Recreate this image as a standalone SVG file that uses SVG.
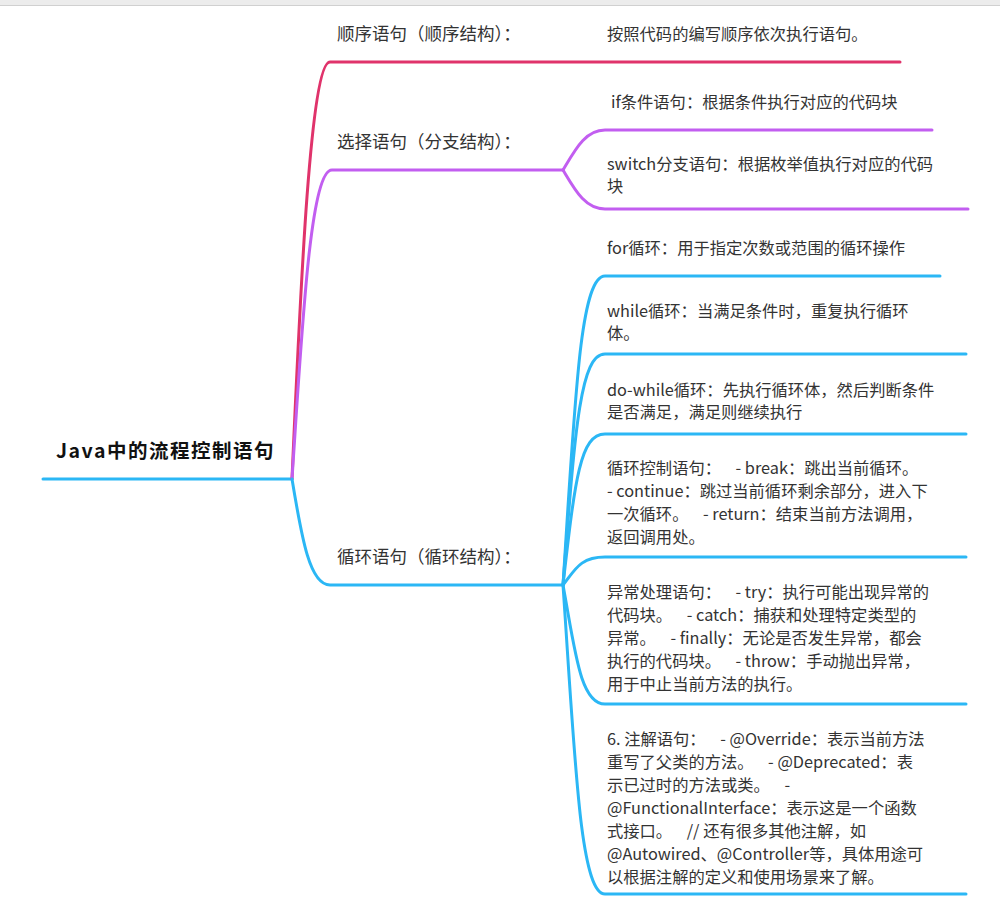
<svg xmlns="http://www.w3.org/2000/svg" width="1000" height="904" viewBox="0 0 1000 904">
<style>
text{font-family:"Noto Sans CJK SC","Liberation Sans",sans-serif;font-size:16.3px;fill:#333;white-space:pre}
.root{font-size:19.5px;font-weight:bold;fill:#111;letter-spacing:1.5px}
.m{font-size:17.5px}
.l{fill:none;stroke-width:3;stroke-linecap:round}
.r{stroke:#e0336b}.p{stroke:#c25ef0}.b{stroke:#2bb7f5}
</style>
<rect x="0" y="0" width="1000" height="5" fill="#ececec"/>
<line x1="0" y1="5.5" x2="1000" y2="5.5" stroke="#d0d0d0"/>
<g id="connectors">
<path class="l b" d="M43 479 H292"/>
<path class="l r" d="M292 479 C300 300 310 62 330 62 H900"/>
<path class="l p" d="M292 479 C302 330 310 170 332 170 H563"/>
<path class="l p" d="M563 170 C575 150 585 130 605 130 H932"/>
<path class="l p" d="M563 170 C575 190 585 209 605 209 H968"/>
<path class="l b" d="M292 479 C302 540 310 585 330 585 H563"/>
<path class="l b" d="M563 585 C575 400 580 276 605 276 H940"/>
<path class="l b" d="M563 585 C575 430 580 354 605 354 H966"/>
<path class="l b" d="M563 585 C575 480 580 434 605 434 H966"/>
<path class="l b" d="M563 585 C575 570 580 557 605 557 H966"/>
<path class="l b" d="M563 585 C575 650 580 704 605 704 H966"/>
<path class="l b" d="M563 585 C575 760 580 894 605 894 H966"/>
</g>
<g id="root"><text class="root" x="56" y="458">Java中的流程控制语句</text></g>
<g id="n1"><text class="m" x="337" y="40">顺序语句（顺序结构）：</text></g>
<g id="n1a"><text x="607" y="40">按照代码的编写顺序依次执行语句。</text></g>
<g id="n2"><text class="m" x="337" y="148">选择语句（分支结构）：</text></g>
<g id="n2a"><text x="611" y="108">if条件语句：根据条件执行对应的代码块</text></g>
<g id="n2b"><text x="607" y="170">switch分支语句：根据枚举值执行对应的代码</text><text x="607" y="192">块</text></g>
<g id="n3"><text class="m" x="337" y="563">循环语句（循环结构）：</text></g>
<g id="c1"><text x="607" y="254">for循环：用于指定次数或范围的循环操作</text></g>
<g id="c2"><text x="607" y="317">while循环：当满足条件时，重复执行循环</text><text x="607" y="339">体。</text></g>
<g id="c3"><text x="607" y="396">do-while循环：先执行循环体，然后判断条件</text><text x="607" y="418">是否满足，满足则继续执行</text></g>
<g id="c4"><text x="607" y="474">循环控制语句：    - break：跳出当前循环。</text><text x="607" y="497">- continue：跳过当前循环剩余部分，进入下</text><text x="607" y="520">一次循环。    - return：结束当前方法调用，</text><text x="607" y="543">返回调用处。</text></g>
<g id="c5"><text x="607" y="598">异常处理语句：    - try：执行可能出现异常的</text><text x="607" y="621">代码块。    - catch：捕获和处理特定类型的</text><text x="607" y="644">异常。    - finally：无论是否发生异常，都会</text><text x="607" y="667">执行的代码块。    - throw：手动抛出异常，</text><text x="607" y="690">用于中止当前方法的执行。</text></g>
<g id="c6"><text x="607" y="745">6. 注解语句：    - @Override：表示当前方法</text><text x="607" y="768">重写了父类的方法。    - @Deprecated：表</text><text x="607" y="791">示已过时的方法或类。    -</text><text x="607" y="814">@FunctionalInterface：表示这是一个函数</text><text x="607" y="837">式接口。    // 还有很多其他注解，如</text><text x="607" y="860">@Autowired、@Controller等，具体用途可</text><text x="607" y="883">以根据注解的定义和使用场景来了解。</text></g>
</svg>
